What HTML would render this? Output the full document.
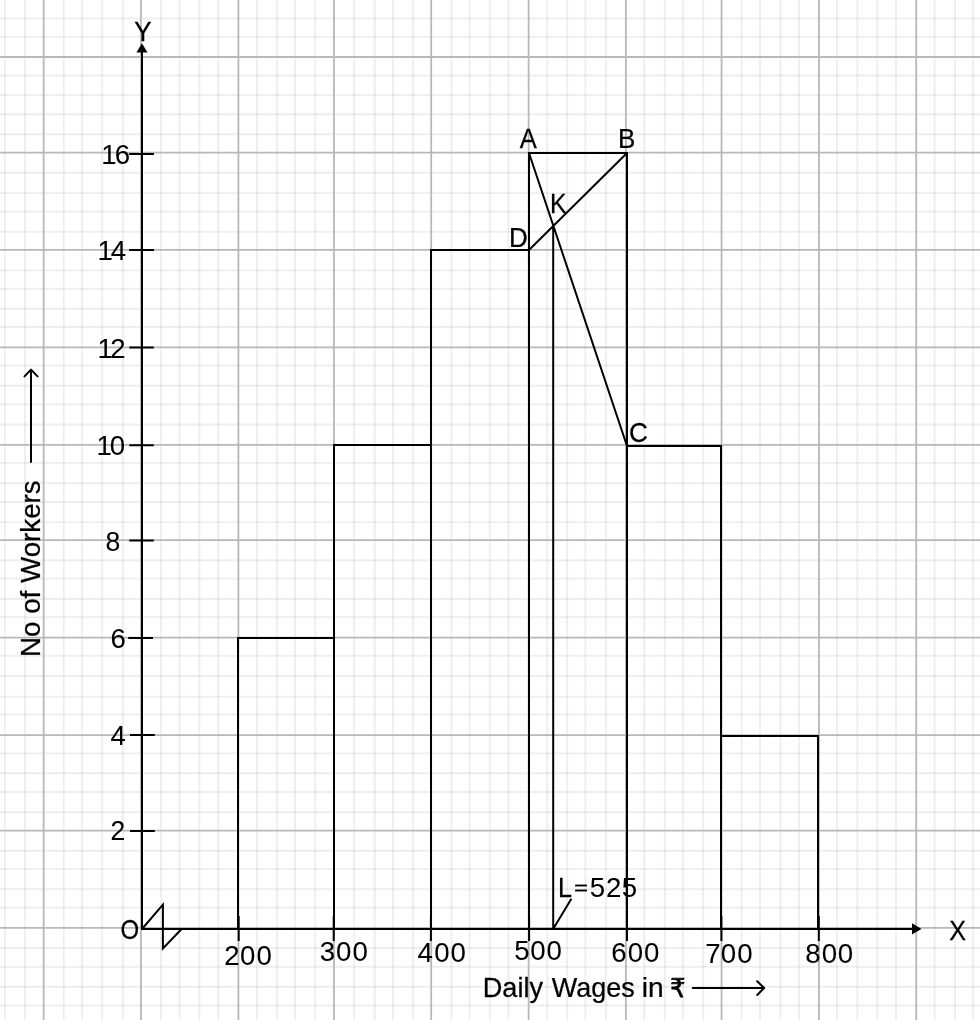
<!DOCTYPE html><html><head><meta charset="utf-8"><title>Histogram</title><style>html,body{margin:0;padding:0;background:#fff;}svg{display:block;will-change:transform;}text{font-family:"Liberation Sans","DejaVu Sans",sans-serif;fill:#000;stroke:#000;stroke-width:0.25px;}text.d{stroke-width:0.05px;}text.r{stroke-width:0.8px;}</style></head><body>
<svg width="980" height="1020" viewBox="0 0 980 1020">
<rect width="980" height="1020" fill="#fff"/>
<g stroke="#000" stroke-opacity="0.066" stroke-width="1.9" fill="none"><path d="M4.9 0V1020"/><path d="M25.0 0V1020"/><path d="M63.8 0V1020"/><path d="M82.1 0V1020"/><path d="M102.2 0V1020"/><path d="M122.9 0V1020"/><path d="M160.9 0V1020"/><path d="M179.6 0V1020"/><path d="M199.4 0V1020"/><path d="M218.3 0V1020"/><path d="M257.0 0V1020"/><path d="M277.1 0V1020"/><path d="M295.0 0V1020"/><path d="M315.4 0V1020"/><path d="M354.2 0V1020"/><path d="M374.8 0V1020"/><path d="M392.9 0V1020"/><path d="M413.1 0V1020"/><path d="M451.5 0V1020"/><path d="M469.6 0V1020"/><path d="M489.8 0V1020"/><path d="M508.4 0V1020"/><path d="M547.3 0V1020"/><path d="M567.3 0V1020"/><path d="M585.4 0V1020"/><path d="M606.1 0V1020"/><path d="M644.3 0V1020"/><path d="M664.7 0V1020"/><path d="M682.9 0V1020"/><path d="M703.3 0V1020"/><path d="M741.6 0V1020"/><path d="M760.0 0V1020"/><path d="M780.4 0V1020"/><path d="M799.1 0V1020"/><path d="M837.0 0V1020"/><path d="M857.4 0V1020"/><path d="M877.3 0V1020"/><path d="M896.0 0V1020"/><path d="M934.6 0V1020"/><path d="M955.0 0V1020"/><path d="M973.1 0V1020"/><path d="M0 18.4H980"/><path d="M0 36.9H980"/><path d="M0 75.5H980"/><path d="M0 95.1H980"/><path d="M0 114.2H980"/><path d="M0 134.3H980"/><path d="M0 172.7H980"/><path d="M0 193.1H980"/><path d="M0 211.6H980"/><path d="M0 231.9H980"/><path d="M0 270.4H980"/><path d="M0 288.7H980"/><path d="M0 308.8H980"/><path d="M0 327.0H980"/><path d="M0 365.5H980"/><path d="M0 385.8H980"/><path d="M0 404.4H980"/><path d="M0 424.5H980"/><path d="M0 462.9H980"/><path d="M0 483.3H980"/><path d="M0 502.0H980"/><path d="M0 522.1H980"/><path d="M0 560.3H980"/><path d="M0 578.6H980"/><path d="M0 599.0H980"/><path d="M0 617.2H980"/><path d="M0 655.9H980"/><path d="M0 676.0H980"/><path d="M0 696.6H980"/><path d="M0 714.5H980"/><path d="M0 753.4H980"/><path d="M0 773.3H980"/><path d="M0 792.0H980"/><path d="M0 812.3H980"/><path d="M0 850.8H980"/><path d="M0 869.1H980"/><path d="M0 889.2H980"/><path d="M0 907.6H980"/><path d="M0 948.0H980"/><path d="M0 966.7H980"/><path d="M0 986.8H980"/><path d="M0 1005.5H980"/></g>
<path d="M43.65 0V1020M140.95 0V1020M238.4 0V1020M333.95 0V1020M431.2 0V1020M528.65 0V1020M625.9 0V1020M721.55 0V1020M818.95 0V1020M916.2 0V1020M0 57.0H980M0 152.65H980M0 249.95H980M0 347.35H980M0 444.9H980M0 540.05H980M0 637.65H980M0 735.05H980M0 830.55H980M0 927.85H980" stroke="#b8b8b8" stroke-width="1.8" fill="none"/>
<path d="M142 52V930M141 929H913M129.1 153.9H154.0M129.1 249.9H154.0M129.3 347.5H153.8M129.3 445.2H153.8M129.3 540.5H153.8M128.2 637.9H153.0M130.0 735.0H154.8M130.0 830.9H154.8M238.7 915.9V941M333.7 915.9V941M430.9 915.9V941M529.1 915.9V941M627 915.9V941M721.4 915.9V941M818.8 915.9V941M238 929V638H334V929M334 929V445H431V929M431 929V250H529V929M529 929V153H627V929M627 929V446H721V929M721 929V736H818V929M529 153L627 446M529 250L627 153M553.2 225.5V929M553.6 928.2L571.4 898.7M142 929L162.9 904.7V948.4L181.6 929" stroke="#000" stroke-width="2.0" fill="none" stroke-linejoin="miter"/>
<path d="M692.8 988H764.2M757.2 981.3L764.2 988L757.2 995M31 462V370M24.5 376.4L31 369.6L37.5 376.4" stroke="#000" stroke-width="2.0" fill="none" stroke-linecap="round" stroke-linejoin="round"/>
<path d="M141.9 43.2L147.5 52.6H136.4Z" fill="#000"/>
<path d="M921.5 928.9L912 934.6V923.2Z" fill="#000"/>
<text class="d" transform="translate(105.5 550.65) scale(0.981 1)" font-size="27.1">8</text>
<text class="d" transform="translate(110.42 647.65) scale(1.019 1)" font-size="27.1">6</text>
<text class="d" transform="translate(110.61 744.75) scale(1.011 1)" font-size="27.1">4</text>
<text class="d" transform="translate(110.57 839.88) scale(0.981 1)" font-size="27.1">2</text>
<text transform="translate(120.52 938.65) scale(0.883 1)" font-size="27.1">O</text>
<text transform="translate(134.15 40.7) scale(0.958 1)" font-size="27.1">Y</text>
<text transform="translate(949.17 939.75) scale(0.928 1)" font-size="27.1">X</text>
<text transform="translate(519.67 147.73) scale(0.945 1)" font-size="27.1">A</text>
<text transform="translate(617.92 147.8) scale(0.959 1)" font-size="27.1">B</text>
<text transform="translate(550.12 212.85) scale(0.911 1)" font-size="27.1">K</text>
<text transform="translate(509.02 246.95) scale(0.961 1)" font-size="27.1">D</text>
<text transform="translate(629.09 441.7) scale(0.966 1)" font-size="27.1">C</text>
<text class="d" transform="translate(0 163.75) scale(1.02 1)" x="99.32 112.56" font-size="27.1">16</text>
<text class="d" transform="translate(0 259.75) scale(1.02 1)" x="95.49 108.58" font-size="27.1">14</text>
<text class="d" transform="translate(0 357.65) scale(1.02 1)" x="95.49 108.12" font-size="27.1">12</text>
<text class="d" transform="translate(0 454.75) scale(1.02 1)" x="94.51 107.63" font-size="27.1">10</text>
<text class="d" transform="translate(0 964.65) scale(1.02 1)" x="219.78 235.42 251.45" font-size="27.1">200</text>
<text class="d" transform="translate(0 960.7) scale(1.02 1)" x="313.48 329.34 345.47" font-size="27.1">300</text>
<text class="d" transform="translate(0 961.65) scale(1.02 1)" x="409.21 425.76 441.7" font-size="27.1">400</text>
<text class="d" transform="translate(0 959.65) scale(1.02 1)" x="504.24 519.78 535.86" font-size="27.1">500</text>
<text class="d" transform="translate(0 961.7) scale(1.02 1)" x="599.27 615.47 631.45" font-size="27.1">600</text>
<text class="d" transform="translate(0 962.7) scale(1.02 1)" x="691.5 706.65 722.77" font-size="27.1">700</text>
<text class="d" transform="translate(0 962.65) scale(1.02 1)" x="789.47 805.57 821.4" font-size="27.1">800</text>
<text transform="translate(573.99 894.66) scale(0.89 0.75)" font-size="27.1">=</text>
<text transform="translate(482.73 996.8) scale(1.002 1)" font-size="27.1">Daily</text>
<text transform="translate(551.87 996.8) scale(0.996 1)" font-size="27.1">Wages</text>
<text transform="translate(641.87 996.8) scale(1.039 1)" font-size="27.1">in</text>
<text class="r" transform="translate(670.19 996.9) scale(0.918 1)" font-size="25.89">₹</text>
<text transform="translate(558.09 897.0) scale(0.929 1)" font-size="27.1">L</text>
<text class="d" transform="translate(0 896.75) scale(1.02 1)" x="578.31 594.05 609.49" font-size="27.1">525</text>
<text transform="translate(39.95 657.02) rotate(-90) scale(1.024 1)" font-size="27.1">No of Workers</text>
</svg></body></html>
